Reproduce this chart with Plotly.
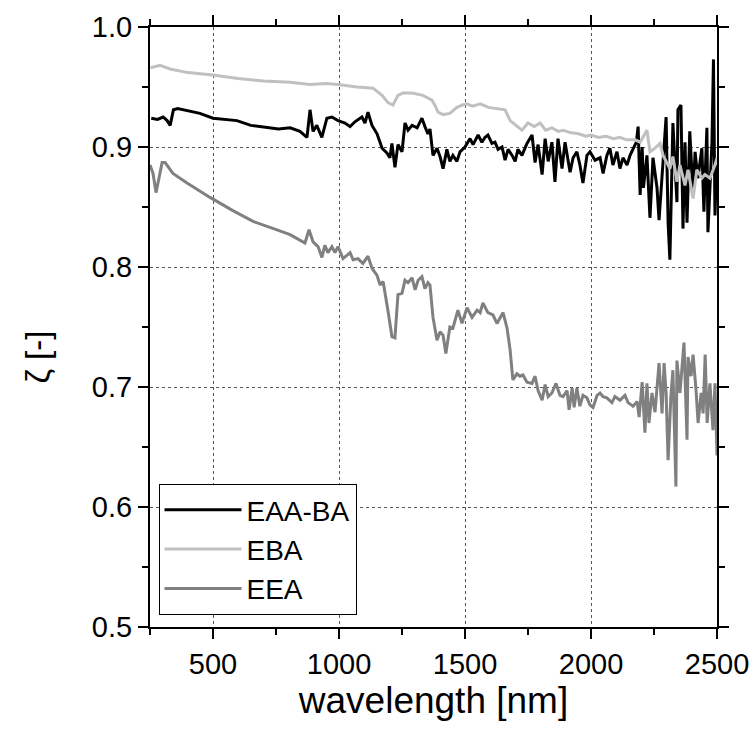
import plotly.graph_objects as go

# Spectral ratio zeta for three samples, wavelength in nm

wl_eaa_ba = [255, 280, 302, 318, 330, 343, 360, 400, 448, 500, 550, 595, 650, 714, 760, 806,
             845, 873, 885, 897, 912, 932, 952, 972, 996, 1024, 1044, 1063, 1091, 1103, 1115,
             1131, 1151, 1171, 1190, 1202, 1210, 1222, 1234, 1250, 1262, 1274, 1290, 1310,
             1329, 1341, 1353, 1361, 1373, 1389, 1401, 1413, 1428, 1440, 1452, 1468, 1480,
             1500, 1520, 1532, 1552, 1567, 1579, 1591, 1607, 1619, 1631, 1647, 1659, 1671,
             1687, 1699, 1710, 1726, 1746, 1766, 1778, 1790, 1806, 1818, 1830, 1845, 1857,
             1869, 1885, 1897, 1917, 1929, 1944, 1956, 1968, 1984, 1996, 2016, 2036, 2048,
             2063, 2075, 2087, 2103, 2115, 2127, 2143, 2155, 2167, 2180, 2187, 2195, 2203,
             2208, 2222, 2234, 2246, 2262, 2270, 2286, 2298, 2306, 2313, 2325, 2341, 2345,
             2357, 2365, 2373, 2381, 2392, 2405, 2413, 2424, 2440, 2448, 2460, 2464, 2480,
             2486, 2492, 2498]
zeta_eaa_ba = [0.924, 0.923, 0.925, 0.922, 0.918, 0.931, 0.932, 0.930, 0.928, 0.924, 0.923,
               0.922, 0.918, 0.916, 0.915, 0.916, 0.913, 0.908, 0.931, 0.913, 0.918, 0.908,
               0.924, 0.925, 0.922, 0.920, 0.917, 0.921, 0.925, 0.920, 0.929, 0.918, 0.911,
               0.899, 0.895, 0.891, 0.903, 0.883, 0.902, 0.896, 0.920, 0.914, 0.918, 0.916,
               0.924, 0.917, 0.911, 0.915, 0.893, 0.899, 0.892, 0.882, 0.898, 0.888, 0.893,
               0.888, 0.896, 0.900, 0.907, 0.902, 0.910, 0.904, 0.908, 0.910, 0.903, 0.904,
               0.898, 0.900, 0.889, 0.898, 0.893, 0.888, 0.898, 0.893, 0.903, 0.910, 0.887,
               0.902, 0.877, 0.907, 0.888, 0.904, 0.871, 0.907, 0.882, 0.904, 0.879, 0.891,
               0.896, 0.885, 0.870, 0.893, 0.896, 0.889, 0.891, 0.878, 0.893, 0.899, 0.885,
               0.896, 0.882, 0.891, 0.885, 0.893, 0.899, 0.904, 0.917, 0.860, 0.900, 0.866,
               0.893, 0.841, 0.891, 0.866, 0.839, 0.891, 0.925, 0.837, 0.806, 0.920, 0.854,
               0.931, 0.935, 0.832, 0.904, 0.837, 0.913, 0.860, 0.896, 0.874, 0.899, 0.846,
               0.916, 0.829, 0.904, 0.973, 0.843, 0.885]

wl_eba = [252, 270, 290, 330, 400, 500, 600, 700, 806, 885, 950, 996, 1071, 1135, 1171,
          1194, 1214, 1234, 1254, 1290, 1333, 1369, 1380, 1393, 1413, 1440, 1468, 1490,
          1508, 1530, 1560, 1593, 1627, 1659, 1679, 1706, 1726, 1750, 1775, 1798, 1820,
          1845, 1870, 1889, 1917, 1950, 1980, 2000, 2030, 2060, 2090, 2115, 2140, 2175,
          2195, 2222, 2234, 2254, 2274, 2286, 2313, 2325, 2341, 2353, 2373, 2385, 2405,
          2420, 2440, 2452, 2472, 2492, 2500]
zeta_eba = [0.966, 0.967, 0.968, 0.965, 0.962, 0.960, 0.957, 0.955, 0.954, 0.952, 0.953,
            0.952, 0.950, 0.949, 0.943, 0.937, 0.935, 0.943, 0.945, 0.945, 0.943, 0.939,
            0.935, 0.929, 0.927, 0.928, 0.933, 0.935, 0.936, 0.934, 0.936, 0.933, 0.932,
            0.931, 0.922, 0.917, 0.914, 0.920, 0.917, 0.920, 0.914, 0.916, 0.913, 0.914,
            0.912, 0.911, 0.909, 0.910, 0.908, 0.909, 0.907, 0.908, 0.906, 0.906, 0.904,
            0.914, 0.896, 0.899, 0.903, 0.893, 0.882, 0.892, 0.871, 0.885, 0.868, 0.881,
            0.857, 0.881, 0.874, 0.877, 0.874, 0.885, 0.891]

wl_eea = [250, 262, 274, 282, 298, 310, 341, 397, 488, 579, 659, 754, 806, 865, 881, 897,
          917, 932, 944, 956, 972, 984, 996, 1016, 1044, 1056, 1075, 1095, 1115, 1131,
          1151, 1163, 1175, 1194, 1210, 1222, 1234, 1250, 1262, 1274, 1290, 1302, 1314,
          1329, 1341, 1353, 1361, 1373, 1389, 1401, 1413, 1424, 1440, 1452, 1472, 1488,
          1508, 1528, 1548, 1560, 1571, 1591, 1611, 1627, 1639, 1651, 1667, 1679, 1690,
          1706, 1718, 1730, 1746, 1766, 1778, 1790, 1806, 1818, 1830, 1845, 1861, 1877,
          1889, 1905, 1913, 1925, 1933, 1944, 1956, 1968, 1984, 1996, 2008, 2024, 2036,
          2048, 2063, 2083, 2095, 2115, 2135, 2147, 2167, 2183, 2191, 2203, 2214, 2222,
          2230, 2242, 2254, 2270, 2282, 2290, 2298, 2306, 2317, 2325, 2337, 2341, 2353,
          2361, 2369, 2381, 2385, 2397, 2405, 2417, 2425, 2437, 2445, 2453, 2461, 2472,
          2484, 2492, 2500]
zeta_eea = [0.885, 0.878, 0.862, 0.870, 0.887, 0.887, 0.878, 0.870, 0.858, 0.847, 0.838,
            0.831, 0.827, 0.820, 0.831, 0.821, 0.817, 0.808, 0.818, 0.812, 0.817, 0.812,
            0.817, 0.807, 0.812, 0.806, 0.807, 0.803, 0.809, 0.799, 0.793, 0.785, 0.788,
            0.764, 0.742, 0.741, 0.777, 0.778, 0.789, 0.787, 0.791, 0.781, 0.789, 0.792,
            0.782, 0.787, 0.785, 0.758, 0.739, 0.746, 0.743, 0.728, 0.750, 0.749, 0.764,
            0.753, 0.766, 0.758, 0.764, 0.762, 0.770, 0.762, 0.760, 0.753, 0.758, 0.762,
            0.749, 0.731, 0.706, 0.711, 0.709, 0.710, 0.704, 0.703, 0.709, 0.697, 0.689,
            0.702, 0.692, 0.695, 0.703, 0.693, 0.692, 0.697, 0.681, 0.699, 0.683, 0.699,
            0.684, 0.693, 0.691, 0.685, 0.683, 0.693, 0.695, 0.692, 0.691, 0.687, 0.692,
            0.689, 0.693, 0.687, 0.684, 0.688, 0.675, 0.704, 0.662, 0.703, 0.670, 0.695,
            0.679, 0.720, 0.678, 0.720, 0.695, 0.639, 0.692, 0.714, 0.617, 0.722, 0.695,
            0.716, 0.737, 0.656, 0.725, 0.709, 0.727, 0.697, 0.670, 0.695, 0.678, 0.727,
            0.670, 0.703, 0.664, 0.703, 0.643]

series = [
    ("EAA-BA", wl_eaa_ba, zeta_eaa_ba, "#000000"),
    ("EBA", wl_eba, zeta_eba, "#c0c0c0"),
    ("EEA", wl_eea, zeta_eea, "#808080"),
]

fig = go.Figure()
for name, x, y, color in series:
    fig.add_trace(go.Scatter(x=x, y=y, mode="lines", name=name,
                             line=dict(color=color, width=3)))

font_family = "Liberation Sans, Arial, sans-serif"
axis_common = dict(
    showline=True, linecolor="black", linewidth=2, mirror="ticks",
    ticks="outside", ticklen=10, tickwidth=2, tickcolor="black",
    showgrid=True, gridcolor="#555555", gridwidth=1, griddash="dot",
    zeroline=False, automargin=False,
    tickfont=dict(family=font_family, size=29, color="black"),
)

fig.update_xaxes(
    range=[250, 2500], tick0=0, dtick=500,
    minor=dict(ticks="outside", ticklen=6, tickwidth=2, tickcolor="black",
               dtick=250, tick0=0, showgrid=False),
    title=dict(text="wavelength [nm]", font=dict(family=font_family, size=37, color="black"),
               standoff=0),
    **axis_common,
)
fig.update_yaxes(
    range=[0.5, 1.0], tick0=0.5, dtick=0.1, tickformat=".1f",
    minor=dict(ticks="outside", ticklen=6, tickwidth=2, tickcolor="black",
               dtick=0.05, tick0=0.5, showgrid=False),
    **axis_common,
)

fig.update_layout(
    width=753, height=734,
    margin=dict(l=150, r=36, t=27, b=107, autoexpand=False),
    paper_bgcolor="white", plot_bgcolor="white",
    showlegend=True,
    legend=dict(
        x=0.015, y=0.02, xanchor="left", yanchor="bottom",
        bgcolor="white", bordercolor="black", borderwidth=1,
        font=dict(family=font_family, size=28, color="black"),
        tracegroupgap=0, itemwidth=77,
    ),
    annotations=[
        dict(text="ζ [-]", textangle=-90, showarrow=False,
             xref="paper", yref="paper", x=-0.2, y=0.45,
             xanchor="center", yanchor="middle",
             font=dict(family=font_family, size=33, color="black")),
    ],
)

fig.write_html("out.html")
